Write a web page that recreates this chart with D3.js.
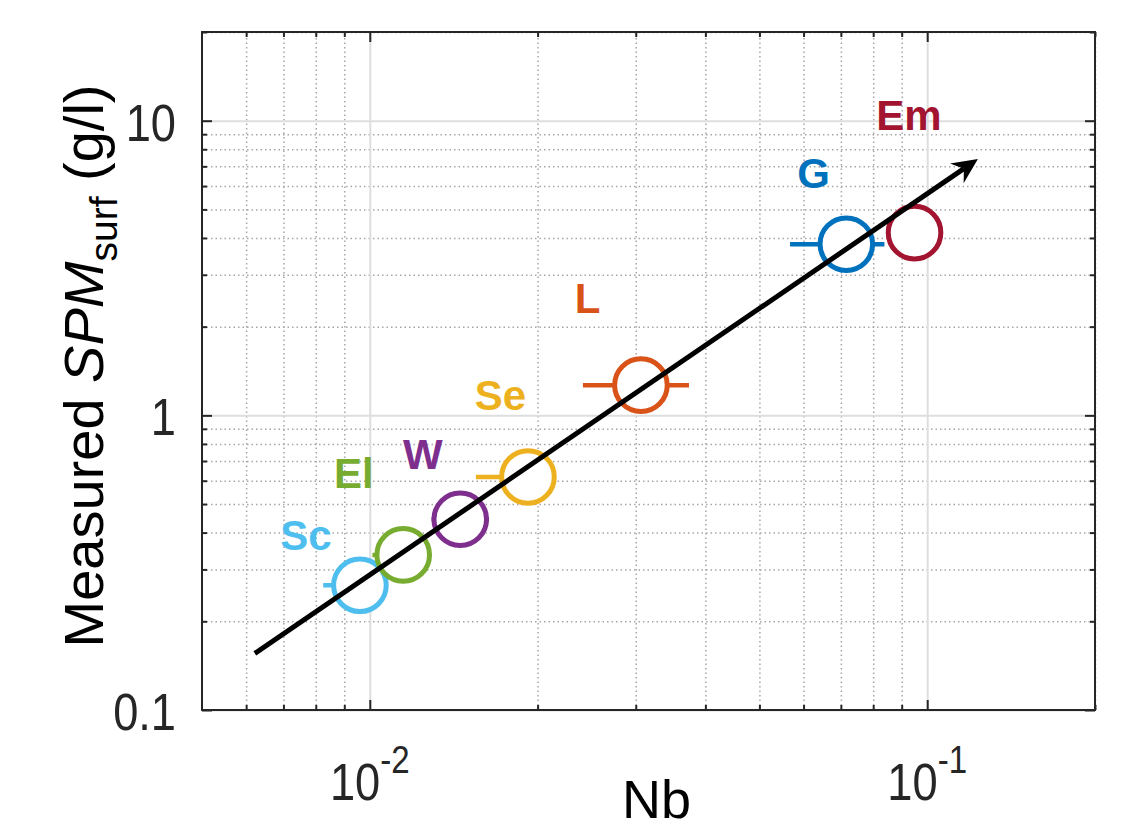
<!DOCTYPE html>
<html>
<head>
<meta charset="utf-8">
<script src="https://cdn.jsdelivr.net/npm/d3@7"></script>
<style>
body { margin: 0; background: #fff; }
text { font-family: "Liberation Sans", Arial, Helvetica, sans-serif; }
</style>
</head>
<body>
<div id="chart"></div>
<script>
// sites, Nb and measured SPM
const sites = ['Sc', 'El', 'W', 'Se', 'L', 'G', 'Em'];
const nb = [0.00960, 0.01148, 0.01453, 0.01922, 0.03065, 0.0716, 0.0949];
const spm = [0.265, 0.336, 0.444, 0.618, 1.266, 3.81, 4.17];
const nbErrLow = [0.00135, 0.00137, 0.00162, 0.00372, 0.00653, 0.01485, 0];
const nbErrHigh = [0.0008, 0.00137, 0.00183, 0.002, 0.00673, 0.0122, 0];
const labelNb = [0.00768, 0.00936, 0.01245, 0.01715, 0.02458, 0.06254, 0.0927];
const labelSpm = [0.348, 0.568, 0.659, 1.044, 2.223, 5.93, 9.32];
const siteColors = ['#4DBEEE', '#77AC30', '#7E2F8E', '#EDB120', '#D95319', '#0072BD', '#A2142F'];

// trend arrow
const trendNb = [0.00622, 0.1233];
const trendSpm = [0.1556, 7.41];

const xTicks = [0.01, 0.1];
const xTickExp = ['-2', '-1'];
const yTicks = [0.1, 1, 10];
const yTickLabels = ['0.1', '1', '10'];

const width = 1139;
const height = 828;
const margin = {top: 32, right: 44, bottom: 118, left: 202};
const axisColor = '#262626';
const squeeze = 0.87;

const points = sites.map((s, i) => ({
    site: s, x: nb[i], y: spm[i], lo: nbErrLow[i], hi: nbErrHigh[i],
    lx: labelNb[i], ly: labelSpm[i], color: siteColors[i]
}));

const svg = d3.select('#chart')
    .append('svg')
    .attr('width', width)
    .attr('height', height);

const xScale = d3.scaleLog()
    .domain([0.005, 0.2])
    .range([margin.left, width - margin.right]);

const yScale = d3.scaleLog()
    .domain([0.1, 20])
    .range([height - margin.bottom, margin.top]);

const minorValues = (domain) => {
    const out = [];
    [0.001, 0.01, 0.1, 1, 10].forEach(d => {
        for (let k = 2; k <= 9; k++) {
            const v = k * d;
            if (v > domain[0] * 1.0001 && v < domain[1] * 1.0001) out.push(v);
        }
    });
    return out;
};
const xMinor = minorValues(xScale.domain());
const yMinor = minorValues(yScale.domain());

const x0 = margin.left, x1 = width - margin.right;
const y0 = margin.top, y1 = height - margin.bottom;

// grid
const grid = svg.append('g');
const gridLines = (axisFn, values, size, tr, minor) => {
    grid.append('g')
        .attr('transform', tr)
        .call(axisFn.tickValues(values).tickSize(size).tickFormat(''))
        .call(g => g.select('.domain').remove())
        .selectAll('line')
        .attr('stroke', minor ? '#a6a6a6' : '#dedede')
        .attr('stroke-width', minor ? 1.5 : 2)
        .attr('stroke-dasharray', minor ? '1.5,3' : null);
};
gridLines(d3.axisBottom(xScale), xMinor, -(y1 - y0), 'translate(0,' + y1 + ')', true);
gridLines(d3.axisLeft(yScale), yMinor, -(x1 - x0), 'translate(' + x0 + ',0)', true);
gridLines(d3.axisBottom(xScale), xTicks, -(y1 - y0), 'translate(0,' + y1 + ')', false);
gridLines(d3.axisLeft(yScale), yTicks, -(x1 - x0), 'translate(' + x0 + ',0)', false);

// horizontal error bars
svg.append('g')
    .selectAll('line')
    .data(points.filter(d => d.lo > 0 || d.hi > 0))
    .enter()
    .append('line')
    .attr('x1', d => xScale(d.x - d.lo))
    .attr('x2', d => xScale(d.x + d.hi))
    .attr('y1', d => yScale(d.y))
    .attr('y2', d => yScale(d.y))
    .attr('stroke', d => d.color)
    .attr('stroke-width', 4.5);

// circles
svg.append('g')
    .selectAll('circle')
    .data(points)
    .enter()
    .append('circle')
    .attr('cx', d => xScale(d.x))
    .attr('cy', d => yScale(d.y))
    .attr('r', 26.3)
    .attr('fill', '#fff')
    .attr('stroke', d => d.color)
    .attr('stroke-width', 5);

// trend arrow
const ax0 = xScale(trendNb[0]), ay0 = yScale(trendSpm[0]);
const ax1 = xScale(trendNb[1]), ay1 = yScale(trendSpm[1]);
const len = Math.hypot(ax1 - ax0, ay1 - ay0);
const ux = (ax1 - ax0) / len, uy = (ay1 - ay0) / len;
const headLen = 25.5, headHalf = 12, notch = 17;
svg.append('line')
    .attr('x1', ax0).attr('y1', ay0)
    .attr('x2', ax1 - ux * notch).attr('y2', ay1 - uy * notch)
    .attr('stroke', '#000')
    .attr('stroke-width', 5);
const headPts = [
    [ax1, ay1],
    [ax1 - ux * headLen - uy * headHalf, ay1 - uy * headLen + ux * headHalf],
    [ax1 - ux * notch, ay1 - uy * notch],
    [ax1 - ux * headLen + uy * headHalf, ay1 - uy * headLen - ux * headHalf]
];
svg.append('path')
    .attr('d', d3.line()(headPts) + 'Z')
    .attr('fill', '#000');

// axes box with inside ticks
const tickAxis = (axisFn, values, size, tr) => {
    svg.append('g')
        .attr('transform', tr)
        .call(axisFn.tickValues(values).tickSize(size).tickSizeOuter(0).tickFormat(''))
        .call(g => g.select('.domain').remove())
        .selectAll('line')
        .attr('stroke', axisColor).attr('stroke-width', 2);
};
tickAxis(d3.axisBottom(xScale), xTicks, -10, 'translate(0,' + y1 + ')');
tickAxis(d3.axisBottom(xScale), xMinor, -5, 'translate(0,' + y1 + ')');
tickAxis(d3.axisTop(xScale), xTicks, -10, 'translate(0,' + y0 + ')');
tickAxis(d3.axisTop(xScale), xMinor, -5, 'translate(0,' + y0 + ')');
tickAxis(d3.axisLeft(yScale), yTicks, -10, 'translate(' + x0 + ',0)');
tickAxis(d3.axisLeft(yScale), yMinor, -5, 'translate(' + x0 + ',0)');
tickAxis(d3.axisRight(yScale), yTicks, -10, 'translate(' + x1 + ',0)');
tickAxis(d3.axisRight(yScale), yMinor, -5, 'translate(' + x1 + ',0)');

svg.append('rect')
    .attr('x', x0).attr('y', y0)
    .attr('width', x1 - x0).attr('height', y1 - y0)
    .attr('fill', 'none')
    .attr('stroke', axisColor)
    .attr('stroke-width', 2);

// tick labels (slightly narrow, like the original)
svg.append('g')
    .selectAll('text')
    .data(yTicks)
    .enter()
    .append('text')
    .attr('transform', d => 'translate(' + (x0 - 26) + ',' + (yScale(d) + 20) + ') scale(' + squeeze + ',1)')
    .attr('text-anchor', 'end')
    .attr('font-size', 52)
    .attr('fill', axisColor)
    .text((d, i) => yTickLabels[i]);

const xLab = svg.append('g')
    .selectAll('text')
    .data(xTicks)
    .enter()
    .append('text')
    .attr('transform', d => 'translate(' + xScale(d) + ',' + (y1 + 90) + ') scale(' + squeeze + ',1)')
    .attr('text-anchor', 'middle')
    .attr('font-size', 52)
    .attr('fill', axisColor);
xLab.append('tspan').text('10');
xLab.append('tspan')
    .attr('dy', -27)
    .attr('font-size', 38)
    .text((d, i) => xTickExp[i]);

// axis titles
svg.append('text')
    .attr('x', (x0 + x1) / 2 + 8)
    .attr('y', 818)
    .attr('text-anchor', 'middle')
    .attr('font-size', 54)
    .attr('fill', '#000')
    .text('Nb');

const yTitle = svg.append('text')
    .attr('transform', 'translate(103,' + ((y0 + y1) / 2 - 5) + ') rotate(-90)')
    .attr('text-anchor', 'middle')
    .attr('font-size', 56)
    .attr('fill', '#000');
yTitle.append('tspan').text('Measured ');
yTitle.append('tspan').attr('font-style', 'italic').text('SPM');
yTitle.append('tspan').attr('font-size', 39).attr('dy', 14).text('surf');
yTitle.append('tspan').attr('dy', -14).text(' (g/l)');

// site labels
svg.append('g')
    .selectAll('text')
    .data(points)
    .enter()
    .append('text')
    .attr('x', d => xScale(d.lx))
    .attr('y', d => yScale(d.ly))
    .attr('text-anchor', 'middle')
    .attr('font-size', 42)
    .attr('font-weight', 'bold')
    .attr('fill', d => d.color)
    .text(d => d.site);
</script>
</body>
</html>
